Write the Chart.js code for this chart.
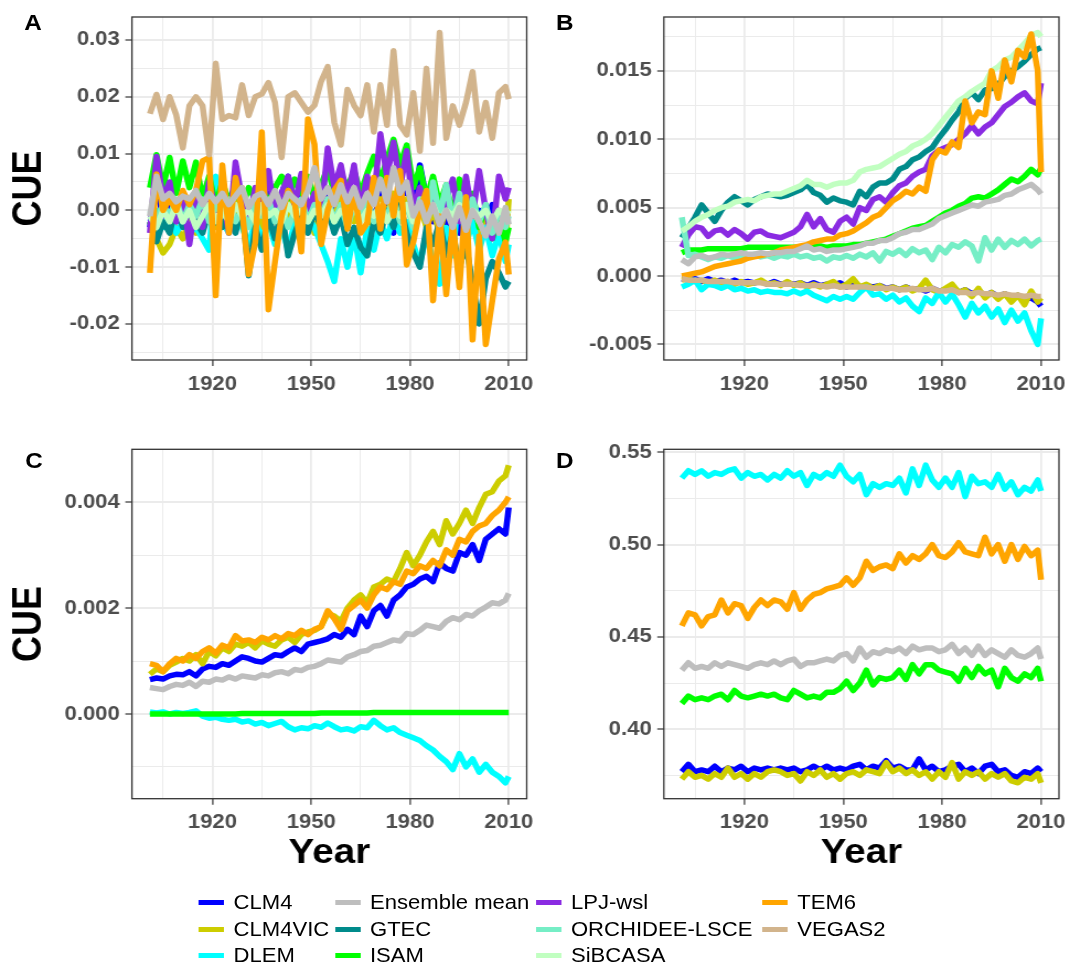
<!DOCTYPE html>
<html>
<head>
<meta charset="utf-8">
<title>CUE by model</title>
<script src="https://cdn.jsdelivr.net/npm/chart.js@4.4.1/dist/chart.umd.min.js"></script>
<style>
  html, body { margin: 0; padding: 0; background: #fff; }
  body { position: relative; width: 1081px; height: 980px; overflow: hidden; font-family: "Liberation Sans", Arial, sans-serif; }
  /* the figure is laid out 980 wide and stretched to the 1081 px page */
  #fig { position: absolute; left: 0; top: 0; width: 980px; height: 980px; transform: scaleX(1.1031); transform-origin: 0 0; }
  canvas { position: absolute; }
  .tag { position: absolute; font-size: 22px; font-weight: bold; line-height: 22px; color: #000; }
  .key { position: absolute; display: flex; align-items: center; height: 24px; font-size: 20px; line-height: 20px; color: #000; white-space: nowrap; }
  .key i { display: inline-block; width: 23px; height: 5px; margin-right: 8.4px; }
</style>
</head>
<body>
<div id="fig">
<canvas id="cA" width="490" height="430" style="left:0;top:0"></canvas>
<canvas id="cB" width="490" height="430" style="left:490px;top:0"></canvas>
<canvas id="cC" width="490" height="460" style="left:0;top:430px"></canvas>
<canvas id="cD" width="490" height="460" style="left:490px;top:430px"></canvas>
<div class="tag" style="left:22px;top:12px">A</div>
<div class="tag" style="left:504px;top:12px">B</div>
<div class="tag" style="left:23px;top:450px">C</div>
<div class="tag" style="left:504px;top:450px">D</div>
<div id="legend"></div>
</div>
<script>
// years sampled every second year, plus the final year
const years = [1901,1903,1905,1907,1909,1911,1913,1915,1917,1919,
  1921,1923,1925,1927,1929,1931,1933,1935,1937,1939,
  1941,1943,1945,1947,1949,1951,1953,1955,1957,1959,
  1961,1963,1965,1967,1969,1971,1973,1975,1977,1979,
  1981,1983,1985,1987,1989,1991,1993,1995,1997,1999,
  2001,2003,2005,2007,2009,2010];

const modelNames = ['CLM4','CLM4VIC','DLEM','Ensemble mean','GTEC','ISAM','LPJ-wsl','ORCHIDEE-LSCE','SiBCASA','TEM6','VEGAS2'];
const modelColors = ['#0000ff','#cdcd00','#00ffff','#bebebe','#008b8b','#00ff00','#8a2be2','#76eec6','#c1ffc1','#ffa500','#d2b48c'];

const xTicks = [1920, 1950, 1980, 2010];
const yTicksA = [-0.02, -0.01, 0, 0.01, 0.02, 0.03];
const yTicksB = [-0.005, 0, 0.005, 0.010, 0.015];
const yTicksC = [0, 0.002, 0.004];
const yTicksD = [0.40, 0.45, 0.50, 0.55];

// ---- Panel A ----
const aCLM4 = [-0.003,0.004,-0.001,0.002,-0.002,0.003,-0.001,0.002,-0.002,0.001,
  0.003,-0.001,0.002,-0.002,0.003,-0.001,0.002,-0.002,0.003,0.000,
  0.003,0.006,0.001,0.004,0.000,0.002,-0.002,0.003,0.000,0.004,
  -0.001,0.003,0.000,0.002,-0.002,0.003,0.000,-0.004,0.002,0.004,
  0.000,0.008,0.002,-0.002,0.001,-0.003,0.000,-0.004,0.001,-0.003,
  0.000,-0.002,0.001,-0.003,-0.001,-0.001];
const aCLM4VIC = [-0.002,-0.005,-0.0075,-0.006,-0.003,-0.005,-0.002,-0.004,-0.003,0.000,
  -0.003,-0.001,-0.003,0.000,0.004,-0.002,0.001,-0.003,0.000,-0.002,
  0.002,-0.001,0.003,-0.002,0.001,-0.004,0.000,0.002,-0.002,0.003,
  0.000,-0.002,0.002,0.000,-0.003,0.002,-0.001,0.003,0.000,0.002,
  -0.002,0.001,-0.003,0.000,-0.004,0.001,-0.002,0.000,-0.003,0.000,
  -0.004,-0.001,-0.003,0.000,-0.006,0.002];
const aDLEM = [-0.002,0.000,-0.003,-0.001,-0.004,-0.002,-0.004,-0.003,-0.005,-0.007,
  0.006,-0.002,-0.004,-0.001,-0.003,-0.006,-0.002,-0.005,-0.002,-0.006,
  -0.003,-0.007,-0.002,-0.004,-0.001,-0.003,-0.006,-0.009,-0.0125,-0.005,
  -0.010,-0.004,-0.011,-0.003,-0.007,-0.002,-0.005,-0.001,-0.004,-0.002,
  -0.006,-0.0095,-0.004,-0.009,-0.013,-0.003,-0.008,0.005,-0.006,-0.002,
  -0.007,-0.003,-0.008,-0.004,-0.009,-0.006];
const aEnsemble = [-0.001,0.006,0.002,0.003,0.0015,0.0025,0.002,0.0035,0.001,0.003,
  0.0015,0.003,0.001,0.0025,0.004,0.0005,0.0025,0.003,0.001,0.0035,
  0.0005,0.003,0.002,0.001,0.0035,0.0075,0.002,0.004,0.001,0.0045,
  0.0015,0.004,0.0005,0.003,0.001,0.0055,0.0015,0.0075,0.003,0.005,
  -0.001,0.0015,-0.002,0.001,-0.0025,0.000,-0.003,0.0005,-0.0035,0.000,
  -0.002,-0.0045,-0.001,-0.004,0.0005,-0.0025];
const aGTEC = [-0.002,-0.0055,-0.002,-0.004,0.001,-0.003,0.000,-0.002,-0.004,0.000,
  -0.002,-0.003,0.000,-0.004,0.001,-0.0115,-0.003,-0.007,-0.001,-0.005,
  0.000,-0.008,-0.004,-0.001,-0.004,0.000,-0.003,0.000,-0.004,-0.001,
  -0.006,-0.003,-0.0065,-0.008,-0.002,-0.004,0.000,-0.003,0.001,-0.004,
  -0.0075,-0.010,-0.003,-0.006,-0.002,-0.008,-0.004,-0.010,-0.006,-0.013,
  -0.020,-0.012,-0.009,-0.011,-0.0135,-0.0125];
const aISAM = [0.004,0.0098,0.004,0.0093,0.003,0.0087,0.004,0.0085,0.002,0.006,
  0.001,0.005,0.0015,0.0045,0.0005,0.004,0.002,0.005,0.001,0.004,
  0.006,0.002,0.0055,0.003,0.006,0.002,0.0045,0.0075,0.003,0.0065,
  0.004,0.007,0.003,0.0065,0.0095,0.005,0.009,0.0125,0.008,0.0115,
  0.004,0.0075,0.002,0.006,0.001,0.0045,-0.001,0.0055,-0.002,0.003,
  -0.003,0.001,-0.005,-0.001,-0.0055,-0.003];
const aLPJ = [-0.004,0.0095,0.002,0.005,-0.002,0.003,-0.006,0.002,-0.003,0.005,
  0.000,0.003,-0.004,0.0085,0.002,-0.002,0.004,0.000,0.007,-0.001,
  0.003,0.006,0.001,0.0065,0.000,0.003,-0.001,0.011,0.004,0.008,
  0.002,0.008,0.000,0.006,0.002,0.0135,0.006,0.012,0.004,0.0105,
  0.000,0.004,-0.002,0.003,-0.003,0.002,0.0055,-0.002,0.006,-0.001,
  0.007,0.000,-0.005,0.006,0.002,0.004];
const aORCHIDEE = [0.000,-0.002,0.001,-0.001,0.002,-0.002,0.001,-0.001,0.002,-0.002,
  0.001,-0.001,0.002,-0.002,0.000,-0.003,0.001,-0.001,0.002,-0.002,
  0.001,-0.003,0.000,0.002,-0.002,0.001,-0.001,0.002,-0.002,0.001,
  -0.003,0.001,-0.001,0.002,-0.002,0.000,-0.001,0.002,-0.002,0.001,
  -0.003,0.002,-0.002,0.005,-0.001,0.0045,-0.002,0.003,-0.003,0.002,
  -0.002,0.001,-0.004,0.000,-0.003,-0.001];
const aSiBCASA = [-0.001,-0.003,0.000,-0.002,0.001,-0.002,0.000,-0.003,-0.001,0.001,
  -0.002,0.000,-0.002,0.001,-0.001,0.000,-0.002,0.001,-0.001,0.000,
  -0.002,0.001,-0.001,0.000,-0.002,0.000,-0.001,0.001,-0.002,0.000,
  -0.001,0.001,-0.002,0.000,-0.001,0.001,-0.002,0.000,-0.001,0.001,
  -0.002,0.000,-0.001,0.001,-0.002,0.000,-0.001,0.001,-0.002,0.000,
  -0.001,0.000,-0.002,0.000,-0.001,0.000];
const aTEM6 = [-0.011,0.0064,0.000,0.002,0.000,0.0035,0.001,0.0035,0.0087,0.0093,
  -0.015,0.008,-0.004,0.0058,0.000,-0.0113,-0.0056,0.0138,-0.0175,-0.009,
  -0.001,0.0035,0.0013,-0.0073,0.0161,0.0116,-0.006,0.000,0.0035,0.0053,
  -0.0033,0.0035,-0.004,-0.0022,0.0058,-0.0033,0.0058,-0.001,0.007,-0.0096,
  -0.0056,0.000,0.0035,-0.0159,-0.001,-0.0148,-0.002,-0.0136,0.0024,-0.0228,
  -0.0045,-0.0236,-0.0159,-0.0085,-0.0056,-0.0113];
const aVEGAS2 = [0.017,0.0204,0.016,0.020,0.0168,0.011,0.0184,0.020,0.0184,0.0098,
  0.0259,0.016,0.0167,0.0163,0.0221,0.0167,0.020,0.0205,0.0225,0.019,
  0.0093,0.020,0.0207,0.019,0.0173,0.0185,0.0227,0.0253,0.0155,0.0115,
  0.0213,0.0185,0.0167,0.0221,0.0138,0.0221,0.015,0.0281,0.015,0.0133,
  0.0207,0.0104,0.025,0.0118,0.0313,0.0127,0.0184,0.015,0.019,0.0244,
  0.0138,0.019,0.0127,0.0207,0.0218,0.0196];

// ---- Panel B ----
const bCLM4 = [-0.0002,-0.0003,-0.0002,-0.0004,-0.0002,-0.0004,-0.0003,-0.0005,-0.0003,-0.0005,
  -0.0004,-0.0005,-0.0004,-0.0006,-0.0004,-0.0006,-0.0005,-0.0006,-0.0005,-0.0007,
  -0.0005,-0.0007,-0.0006,-0.0007,-0.0005,-0.0008,-0.0006,-0.0008,-0.0007,-0.0008,
  -0.0007,-0.0009,-0.0008,-0.0010,-0.0008,-0.0010,-0.0009,-0.0011,-0.0009,-0.0011,
  -0.0010,-0.0007,-0.0012,-0.0010,-0.0013,-0.0011,-0.0014,-0.0012,-0.0015,-0.0013,
  -0.0016,-0.0014,-0.0017,-0.0016,-0.0019,-0.0022];
const bCLM4VIC = [-0.0003,-0.0002,-0.0004,-0.0003,-0.0005,-0.0003,-0.0005,-0.0004,-0.0006,-0.0004,
  -0.0006,-0.0005,-0.0003,-0.0006,-0.0005,-0.0007,-0.0004,-0.0007,-0.0005,-0.0008,
  -0.0006,-0.0008,-0.0006,-0.0004,-0.0008,-0.0006,-0.0002,-0.0008,-0.0006,-0.0009,
  -0.0007,-0.0010,-0.0008,-0.0010,-0.0008,-0.0011,-0.0009,-0.0003,-0.0010,-0.0012,
  -0.0009,-0.0006,-0.0012,-0.0010,-0.0015,-0.0009,-0.0016,-0.0012,-0.0017,-0.0013,
  -0.0019,-0.0014,-0.0021,-0.0011,-0.0019,-0.0016];
const bDLEM = [-0.0008,-0.0006,-0.0003,-0.0010,-0.0006,-0.0007,-0.0009,-0.0007,-0.0010,-0.0009,
  -0.0011,-0.0010,-0.0012,-0.0011,-0.0012,-0.0012,-0.0013,-0.0011,-0.0013,-0.0011,
  -0.0014,-0.0016,-0.0018,-0.0015,-0.0017,-0.0015,-0.0017,-0.0012,-0.0008,-0.0014,
  -0.0013,-0.0017,-0.0014,-0.0019,-0.0016,-0.0022,-0.0026,-0.0016,-0.0020,-0.0012,
  -0.0019,-0.0013,-0.0021,-0.0030,-0.0020,-0.0027,-0.0022,-0.0030,-0.0024,-0.0034,
  -0.0025,-0.0033,-0.0027,-0.0040,-0.0050,-0.0031];
const bEnsemble = [0.0012,0.0009,0.0014,0.0015,0.0013,0.0014,0.0016,0.0015,0.0016,0.0017,
  0.0016,0.0016,0.0017,0.0016,0.0017,0.0017,0.0018,0.0018,0.0020,0.0022,
  0.0019,0.0020,0.0018,0.0019,0.0019,0.0020,0.0021,0.0022,0.0024,0.0024,
  0.0026,0.0026,0.0028,0.0031,0.0032,0.0034,0.0034,0.0036,0.0038,0.0042,
  0.0044,0.0046,0.0048,0.0050,0.0052,0.0051,0.0054,0.0055,0.0056,0.0059,
  0.0060,0.0063,0.0065,0.0067,0.0063,0.0060];
const bGTEC = [0.0028,0.0035,0.0043,0.0052,0.0046,0.0040,0.0048,0.0054,0.0058,0.0055,
  0.0052,0.0056,0.0058,0.0060,0.0059,0.0058,0.0059,0.0061,0.0063,0.0067,
  0.0061,0.0059,0.0054,0.0057,0.0055,0.0054,0.0052,0.0062,0.0058,0.0065,
  0.0068,0.0068,0.0071,0.0078,0.0080,0.0085,0.0087,0.0091,0.0094,0.0101,
  0.0107,0.0114,0.0120,0.0130,0.0134,0.0129,0.0136,0.0137,0.0140,0.0146,
  0.0150,0.0153,0.0157,0.0162,0.0166,0.0167];
const bISAM = [0.0017,0.0019,0.0019,0.0019,0.0020,0.0020,0.0020,0.0020,0.0020,0.0020,
  0.0021,0.0021,0.0021,0.0021,0.0021,0.0021,0.0021,0.0021,0.0021,0.0021,
  0.0022,0.0022,0.0021,0.0022,0.0022,0.0022,0.0023,0.0023,0.0024,0.0025,
  0.0026,0.0027,0.0029,0.0031,0.0033,0.0035,0.0036,0.0037,0.0040,0.0043,
  0.0046,0.0048,0.0051,0.0053,0.0057,0.0058,0.0057,0.0060,0.0063,0.0067,
  0.0071,0.0069,0.0073,0.0078,0.0074,0.0079];
const bLPJ = [0.0021,0.0030,0.0036,0.0035,0.0029,0.0033,0.0034,0.0030,0.0034,0.0031,
  0.0027,0.0032,0.0033,0.0030,0.0029,0.0028,0.0030,0.0032,0.0036,0.0045,
  0.0036,0.0042,0.0034,0.0032,0.0040,0.0043,0.0038,0.0050,0.0048,0.0056,
  0.0058,0.0054,0.0061,0.0066,0.0068,0.0073,0.0076,0.0078,0.0088,0.0092,
  0.0094,0.0096,0.0100,0.0104,0.0110,0.0104,0.0109,0.0112,0.0118,0.0124,
  0.0127,0.0131,0.0134,0.0128,0.0126,0.0141];
const bORCHIDEE = [0.0043,0.0015,0.0016,0.0014,0.0012,0.0014,0.0013,0.0015,0.0013,0.0015,
  0.0014,0.0016,0.0014,0.0015,0.0013,0.0015,0.0014,0.0016,0.0014,0.0015,
  0.0013,0.0014,0.0011,0.0014,0.0013,0.0015,0.0013,0.0016,0.0014,0.0017,
  0.0011,0.0018,0.0016,0.0019,0.0015,0.0020,0.0017,0.0019,0.0012,0.0021,
  0.0017,0.0023,0.0021,0.0025,0.0022,0.0011,0.0028,0.0019,0.0027,0.0021,
  0.0026,0.0023,0.0027,0.0022,0.0026,0.0027];
const bSiBCASA = [0.0033,0.0036,0.0040,0.0043,0.0045,0.0048,0.0050,0.0051,0.0054,0.0055,
  0.0056,0.0055,0.0058,0.0059,0.0060,0.0060,0.0062,0.0064,0.0066,0.0070,
  0.0067,0.0067,0.0065,0.0067,0.0068,0.0068,0.0070,0.0076,0.0078,0.0079,
  0.0080,0.0083,0.0086,0.0089,0.0091,0.0095,0.0097,0.0100,0.0104,0.0110,
  0.0116,0.0122,0.0128,0.0131,0.0135,0.0138,0.0141,0.0150,0.0153,0.0158,
  0.0160,0.0165,0.0170,0.0176,0.0178,0.0175];
const bTEM6 = [0.0000,0.0001,0.0002,0.0003,0.0005,0.0007,0.0008,0.0009,0.0010,0.0011,
  0.0013,0.0014,0.0015,0.0016,0.0017,0.0019,0.0020,0.0021,0.0022,0.0023,
  0.0025,0.0026,0.0027,0.0027,0.0030,0.0031,0.0033,0.0036,0.0039,0.0043,
  0.0045,0.0050,0.0055,0.0058,0.0062,0.0060,0.0065,0.0062,0.0085,0.0092,
  0.0090,0.0098,0.0094,0.0128,0.0112,0.0120,0.0118,0.0150,0.0130,0.0158,
  0.0142,0.0165,0.0160,0.0177,0.0150,0.0076];
const bVEGAS2 = [-0.0002,-0.0003,-0.0003,-0.0003,-0.0004,-0.0004,-0.0004,-0.0004,-0.0005,-0.0005,
  -0.0005,-0.0005,-0.0005,-0.0006,-0.0006,-0.0006,-0.0006,-0.0006,-0.0007,-0.0007,
  -0.0007,-0.0007,-0.0008,-0.0007,-0.0008,-0.0008,-0.0008,-0.0008,-0.0008,-0.0009,
  -0.0009,-0.0009,-0.0009,-0.0010,-0.0010,-0.0009,-0.0010,-0.0010,-0.0009,-0.0011,
  -0.0011,-0.0010,-0.0012,-0.0012,-0.0013,-0.0012,-0.0013,-0.0013,-0.0014,-0.0013,
  -0.0014,-0.0014,-0.0015,-0.0014,-0.0015,-0.0015];

// ---- Panel C ----
const cCLM4 = [0.00065,0.00068,0.00066,0.00072,0.00075,0.00074,0.00080,0.00072,0.00085,0.00090,
  0.00088,0.00095,0.00092,0.00100,0.00108,0.00105,0.00100,0.00098,0.00105,0.00112,
  0.00110,0.00118,0.00125,0.00118,0.00132,0.00135,0.00138,0.00142,0.00150,0.00145,
  0.00160,0.00150,0.00185,0.00165,0.00195,0.00205,0.00185,0.00215,0.00225,0.00240,
  0.00245,0.00255,0.00260,0.00250,0.00285,0.00275,0.00270,0.00305,0.00300,0.00320,
  0.00290,0.00330,0.00340,0.00350,0.00340,0.00390];
const cCLM4VIC = [0.00075,0.00085,0.00080,0.00092,0.00098,0.00105,0.00100,0.00112,0.00095,0.00118,
  0.00110,0.00125,0.00118,0.00132,0.00128,0.00135,0.00125,0.00138,0.00132,0.00128,
  0.00140,0.00145,0.00135,0.00150,0.00155,0.00158,0.00165,0.00190,0.00185,0.00175,
  0.00200,0.00215,0.00225,0.00210,0.00240,0.00245,0.00255,0.00250,0.00275,0.00305,
  0.00280,0.00300,0.00325,0.00345,0.00320,0.00365,0.00340,0.00360,0.00385,0.00360,
  0.00390,0.00415,0.00420,0.00440,0.00450,0.00470];
const cDLEM = [0.00004,0.00002,0.00004,0.00000,0.00003,0.00001,0.00003,0.00006,-0.00004,-0.00008,
  -0.00006,-0.00010,-0.00012,-0.00010,-0.00015,-0.00013,-0.00019,-0.00016,-0.00022,-0.00018,
  -0.00014,-0.00024,-0.00030,-0.00026,-0.00028,-0.00022,-0.00025,-0.00017,-0.00024,-0.00030,
  -0.00028,-0.00032,-0.00024,-0.00026,-0.00012,-0.00022,-0.00030,-0.00026,-0.00035,-0.00040,
  -0.00045,-0.00050,-0.00060,-0.00068,-0.00080,-0.00090,-0.00105,-0.00075,-0.00100,-0.00085,
  -0.00110,-0.00095,-0.00110,-0.00118,-0.00130,-0.00118];
const cEnsemble = [0.00050,0.00048,0.00046,0.00052,0.00056,0.00054,0.00060,0.00052,0.00062,0.00060,
  0.00066,0.00064,0.00070,0.00066,0.00072,0.00070,0.00068,0.00074,0.00072,0.00078,
  0.00080,0.00076,0.00084,0.00082,0.00088,0.00090,0.00095,0.00102,0.00100,0.00098,
  0.00108,0.00112,0.00118,0.00120,0.00128,0.00130,0.00135,0.00140,0.00138,0.00152,
  0.00150,0.00158,0.00168,0.00165,0.00162,0.00175,0.00182,0.00178,0.00188,0.00185,
  0.00195,0.00202,0.00210,0.00208,0.00215,0.00228];
const cISAM = [0.00000,0.00000,0.00000,0.00000,0.00000,0.00000,0.00000,0.00000,0.00000,0.00000,
  0.00000,0.00000,0.00000,0.00000,0.00001,0.00001,0.00001,0.00001,0.00001,0.00001,
  0.00001,0.00001,0.00001,0.00001,0.00001,0.00001,0.00002,0.00002,0.00002,0.00002,
  0.00002,0.00002,0.00002,0.00002,0.00003,0.00003,0.00003,0.00003,0.00003,0.00003,
  0.00003,0.00003,0.00003,0.00003,0.00003,0.00003,0.00003,0.00003,0.00003,0.00003,
  0.00003,0.00003,0.00003,0.00003,0.00003,0.00003];
const cTEM6 = [0.00095,0.00092,0.00080,0.00095,0.00105,0.00100,0.00112,0.00105,0.00118,0.00125,
  0.00115,0.00130,0.00125,0.00148,0.00138,0.00140,0.00135,0.00145,0.00140,0.00148,
  0.00142,0.00152,0.00148,0.00158,0.00150,0.00160,0.00165,0.00195,0.00180,0.00160,
  0.00195,0.00205,0.00215,0.00200,0.00225,0.00240,0.00235,0.00250,0.00245,0.00270,
  0.00265,0.00280,0.00275,0.00290,0.00280,0.00310,0.00300,0.00330,0.00325,0.00345,
  0.00355,0.00360,0.00375,0.00385,0.00400,0.00410];

// ---- Panel D ----
const dCLM4 = [0.377,0.381,0.377,0.378,0.377,0.380,0.377,0.379,0.378,0.380,
  0.377,0.379,0.378,0.379,0.378,0.379,0.378,0.379,0.377,0.378,
  0.380,0.378,0.380,0.378,0.379,0.378,0.380,0.381,0.378,0.380,
  0.379,0.383,0.379,0.380,0.378,0.378,0.384,0.378,0.380,0.377,
  0.378,0.380,0.381,0.377,0.379,0.376,0.380,0.381,0.377,0.378,
  0.375,0.374,0.377,0.376,0.379,0.377];
const dCLM4VIC = [0.373,0.377,0.374,0.375,0.373,0.376,0.374,0.379,0.374,0.376,
  0.373,0.376,0.374,0.377,0.378,0.377,0.375,0.376,0.372,0.377,
  0.375,0.378,0.374,0.376,0.373,0.376,0.377,0.375,0.378,0.377,
  0.376,0.382,0.377,0.379,0.376,0.378,0.375,0.377,0.373,0.377,
  0.374,0.382,0.373,0.377,0.375,0.377,0.373,0.376,0.374,0.376,
  0.372,0.371,0.374,0.373,0.376,0.371];
const dDLEM = [0.536,0.540,0.538,0.540,0.537,0.539,0.538,0.540,0.541,0.536,
  0.539,0.537,0.538,0.535,0.538,0.536,0.540,0.537,0.539,0.532,
  0.538,0.536,0.539,0.537,0.543,0.537,0.534,0.538,0.527,0.533,
  0.531,0.533,0.532,0.536,0.528,0.541,0.532,0.543,0.535,0.531,
  0.536,0.531,0.539,0.526,0.537,0.533,0.534,0.531,0.538,0.530,
  0.534,0.527,0.531,0.529,0.535,0.529];
const dEnsemble = [0.432,0.436,0.433,0.434,0.433,0.436,0.434,0.436,0.435,0.434,
  0.433,0.435,0.436,0.435,0.437,0.435,0.437,0.438,0.434,0.436,
  0.436,0.437,0.438,0.437,0.440,0.441,0.437,0.444,0.439,0.442,
  0.441,0.443,0.442,0.444,0.441,0.445,0.443,0.444,0.444,0.442,
  0.443,0.446,0.441,0.444,0.440,0.445,0.440,0.443,0.441,0.439,
  0.443,0.440,0.439,0.441,0.444,0.438];
const dISAM = [0.414,0.418,0.416,0.417,0.416,0.418,0.419,0.416,0.421,0.418,
  0.417,0.418,0.419,0.418,0.419,0.417,0.416,0.421,0.419,0.417,
  0.418,0.417,0.420,0.420,0.422,0.426,0.421,0.425,0.432,0.424,
  0.428,0.427,0.428,0.432,0.427,0.435,0.430,0.435,0.435,0.432,
  0.431,0.430,0.426,0.433,0.428,0.434,0.430,0.432,0.423,0.433,
  0.428,0.426,0.430,0.428,0.433,0.426];
const dTEM6 = [0.456,0.463,0.462,0.456,0.461,0.462,0.470,0.463,0.468,0.467,
  0.460,0.466,0.470,0.467,0.470,0.469,0.465,0.474,0.465,0.470,
  0.473,0.474,0.476,0.477,0.478,0.482,0.478,0.482,0.491,0.486,
  0.488,0.489,0.487,0.495,0.490,0.494,0.492,0.495,0.500,0.494,
  0.493,0.496,0.501,0.496,0.495,0.494,0.504,0.495,0.500,0.491,
  0.500,0.492,0.499,0.494,0.497,0.481];

const seriesA = [['CLM4', aCLM4], ['CLM4VIC', aCLM4VIC], ['DLEM', aDLEM], ['Ensemble mean', aEnsemble],
  ['GTEC', aGTEC], ['ISAM', aISAM], ['LPJ-wsl', aLPJ], ['ORCHIDEE-LSCE', aORCHIDEE],
  ['SiBCASA', aSiBCASA], ['TEM6', aTEM6], ['VEGAS2', aVEGAS2]];
const seriesB = [['CLM4', bCLM4], ['CLM4VIC', bCLM4VIC], ['DLEM', bDLEM], ['Ensemble mean', bEnsemble],
  ['GTEC', bGTEC], ['ISAM', bISAM], ['LPJ-wsl', bLPJ], ['ORCHIDEE-LSCE', bORCHIDEE],
  ['SiBCASA', bSiBCASA], ['TEM6', bTEM6], ['VEGAS2', bVEGAS2]];
const seriesC = [['CLM4', cCLM4], ['CLM4VIC', cCLM4VIC], ['DLEM', cDLEM], ['Ensemble mean', cEnsemble],
  ['ISAM', cISAM], ['TEM6', cTEM6]];
const seriesD = [['CLM4', dCLM4], ['CLM4VIC', dCLM4VIC], ['DLEM', dDLEM], ['Ensemble mean', dEnsemble],
  ['ISAM', dISAM], ['TEM6', dTEM6]];

Chart.defaults.font.family = '"Liberation Sans", Arial, sans-serif';

const colorOf = name => modelColors[modelNames.indexOf(name)];

// ggplot style: 5% of the data range added on both sides
function expand(lo, hi) {
  const pad = (hi - lo) * 0.05;
  return [lo - pad, hi + pad];
}

// major ticks plus the half-way minor ones inside [lo, hi]
function gridValues(major, lo, hi) {
  const half = (major[1] - major[0]) / 2;
  const out = [];
  for (let k = -4; k <= major.length * 2 + 4; k++) {
    const v = +(major[0] + k * half).toFixed(8);
    if (v >= lo && v <= hi) out.push(v);
  }
  return out;
}

function isIn(list, v) {
  const eps = Math.abs(list[1] - list[0]) * 1e-3;
  return list.some(m => Math.abs(m - v) < eps);
}

// frame drawn over the lines, like panel.border in theme_bw
const panelBorder = {
  id: 'panelBorder',
  afterDatasetsDraw(chart) {
    const {ctx, chartArea: a} = chart;
    ctx.save();
    ctx.strokeStyle = '#333333';
    ctx.lineWidth = 1.3;
    ctx.strokeRect(a.left, a.top, a.right - a.left, a.bottom - a.top);
    ctx.restore();
  }
};

function makePanel(canvasId, series, yMajor, digits, box) {
  const all = series.flatMap(s => s[1]);
  const [yMin, yMax] = expand(Math.min(...all), Math.max(...all));
  const [xMin, xMax] = expand(years[0], years[years.length - 1]);
  const yGrid = gridValues(yMajor, yMin, yMax);
  const xGrid = gridValues(xTicks, xMin, xMax);

  // ensemble mean is drawn last, the rest in legend order
  const drawSeq = series.filter(s => s[0] !== 'Ensemble mean')
    .concat(series.filter(s => s[0] === 'Ensemble mean'));
  const datasets = drawSeq.map(([name, vals], k) => ({
    label: name,
    data: vals.map((v, i) => ({x: years[i], y: v})),
    borderColor: colorOf(name),
    backgroundColor: colorOf(name),
    borderWidth: 5.5,
    borderJoinStyle: 'round',
    pointRadius: 0,
    tension: 0,
    fill: false,
    order: drawSeq.length - k
  }));

  const tickFont = {size: 20, weight: 'bold'};

  return new Chart(document.getElementById(canvasId), {
    type: 'line',
    data: {datasets},
    plugins: [panelBorder],
    options: {
      responsive: false,
      animation: false,
      layout: {padding: {left: 0, right: box.padRight, top: box.padTop, bottom: 0}},
      plugins: {legend: {display: false}, tooltip: {enabled: false}},
      scales: {
        x: {
          type: 'linear',
          min: xMin,
          max: xMax,
          afterBuildTicks: s => { s.ticks = xGrid.map(v => ({value: v})); },
          afterFit: s => { s.height = box.xAxisH; },
          border: {display: false},
          grid: {
            color: '#ebebeb',
            lineWidth: c => isIn(xTicks, c.tick.value) ? 1.8 : 1,
            tickLength: 6,
            tickWidth: 1.2,
            tickColor: c => isIn(xTicks, c.tick.value) ? '#333333' : 'rgba(0,0,0,0)'
          },
          ticks: {
            autoSkip: false,
            maxRotation: 0,
            padding: 6,
            color: '#4d4d4d',
            font: tickFont,
            callback: v => isIn(xTicks, v) ? String(Math.round(v)) : ''
          },
          title: {
            display: box.xTitle,
            text: 'Year',
            color: '#000',
            font: {size: 35, weight: 'bold', lineHeight: 1.2},
            padding: {top: 0, bottom: 16}
          }
        },
        y: {
          type: 'linear',
          min: yMin,
          max: yMax,
          afterBuildTicks: s => { s.ticks = yGrid.map(v => ({value: v})); },
          afterFit: s => { s.width = box.yAxisW; },
          border: {display: false},
          grid: {
            color: '#ebebeb',
            lineWidth: c => isIn(yMajor, c.tick.value) ? 2 : 1.1,
            tickLength: 6,
            tickWidth: 1.2,
            tickColor: c => isIn(yMajor, c.tick.value) ? '#333333' : 'rgba(0,0,0,0)'
          },
          ticks: {
            autoSkip: false,
            padding: 5,
            color: '#4d4d4d',
            font: tickFont,
            callback: v => isIn(yMajor, v) ? v.toFixed(digits) : ''
          },
          title: {
            display: box.yTitle,
            text: 'CUE',
            color: '#000',
            font: {size: 36, weight: 'bold', lineHeight: 1.2},
            padding: {top: 5, bottom: 0}
          }
        }
      }
    }
  });
}

makePanel('cA', seriesA, yTicksA, 2, {yAxisW: 119.6, padRight: 11.8, padTop: 11, xAxisH: 70, yTitle: true, xTitle: false});
makePanel('cB', seriesB, yTicksB, 3, {yAxisW: 111.8, padRight: 20, padTop: 11, xAxisH: 70, yTitle: false, xTitle: false});
makePanel('cC', seriesC, yTicksC, 3, {yAxisW: 119.6, padRight: 11.8, padTop: 19.3, xAxisH: 91.3, yTitle: true, xTitle: true});
makePanel('cD', seriesD, yTicksD, 2, {yAxisW: 111.8, padRight: 20, padTop: 19.3, xAxisH: 91.3, yTitle: false, xTitle: true});

// legend: 3 rows, filled column by column
const legendCols = [180.4, 304, 486.2, 691.4];
const legendRows = [902, 929, 955];
const legend = document.getElementById('legend');
modelNames.forEach((name, i) => {
  const item = document.createElement('div');
  item.className = 'key';
  item.style.left = legendCols[Math.floor(i / 3)] + 'px';
  item.style.top = (legendRows[i % 3] - 12) + 'px';
  const sw = document.createElement('i');
  sw.style.background = modelColors[i];
  item.appendChild(sw);
  item.appendChild(document.createTextNode(name));
  legend.appendChild(item);
});
</script>
</body>
</html>
